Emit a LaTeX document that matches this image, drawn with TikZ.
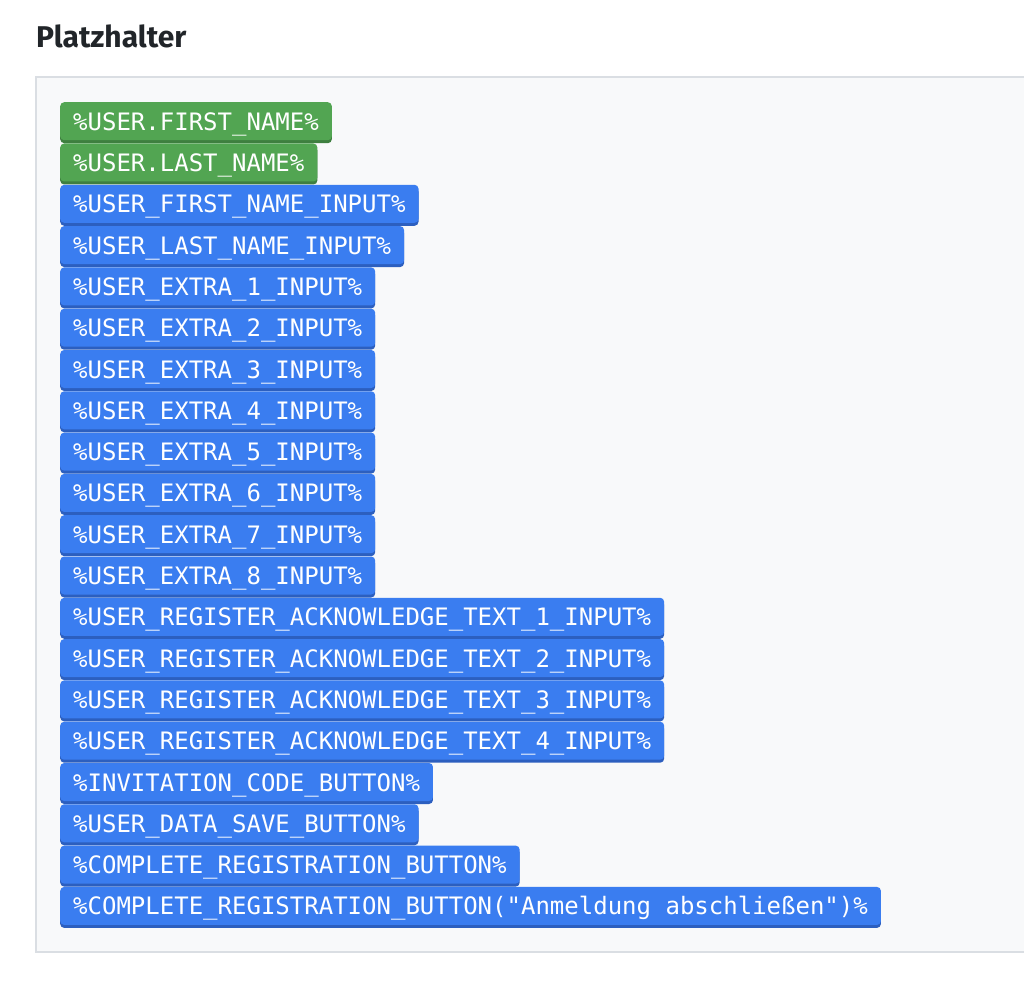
\documentclass[tikz,border=0pt]{standalone}
\usepackage{fontspec}
\setsansfont{Fira Sans}
\newfontfamily\tagfont{DejaVu Sans Mono}
\usetikzlibrary{positioning, shadows}

\definecolor{titlegray}{HTML}{212529}
\definecolor{panelfill}{HTML}{F8F9FA}
\definecolor{panelline}{HTML}{DADEE3}
\definecolor{taggreen}{HTML}{52A552}
\definecolor{taggreendark}{HTML}{3E7F3F}
\definecolor{tagblue}{HTML}{3A7DF0}
\definecolor{tagbluedark}{HTML}{2C5FBF}

\begin{document}
\begin{tikzpicture}[x=1pt, y=1pt, node distance=2.9pt and 0pt,
    tag/.style={rounded corners=4pt, text=white, inner xsep=13pt, inner ysep=8pt,
        text height=20pt, text depth=2pt, font=\tagfont\fontsize{24}{28}\selectfont},
    greentag/.style={tag, fill=taggreen, anchor=north west,
        drop shadow={shadow xshift=0pt, shadow yshift=-3pt, fill=taggreendark, opacity=1}},
    bluetag/.style={tag, fill=tagblue, anchor=north west,
        drop shadow={shadow xshift=0pt, shadow yshift=-3pt, fill=tagbluedark, opacity=1}}]
    \clip (0,0) rectangle (1024,-981);

    % Heading and panel
    \node[anchor=base west, inner sep=0pt, text=titlegray,
        font=\sffamily\bfseries\fontsize{30}{36}\selectfont] (title) at (36,-48) {Platzhalter};
    \node[draw=panelline, line width=2pt, fill=panelfill, anchor=north west,
        minimum width=1010pt, minimum height=875pt] (panel) at (35,-76) {};

    % Nodes
    \node[greentag] (g1) at (60,-102) {\%USER.FIRST\_NAME\%};
    \node[greentag, below right=of g1.south west] (g2) {\%USER.LAST\_NAME\%};
    \node[bluetag, below right=of g2.south west] (b1) {\%USER\_FIRST\_NAME\_INPUT\%};
    \node[bluetag, below right=of b1.south west] (b2) {\%USER\_LAST\_NAME\_INPUT\%};
    \node[bluetag, below right=of b2.south west] (e1) {\%USER\_EXTRA\_1\_INPUT\%};
    \node[bluetag, below right=of e1.south west] (e2) {\%USER\_EXTRA\_2\_INPUT\%};
    \node[bluetag, below right=of e2.south west] (e3) {\%USER\_EXTRA\_3\_INPUT\%};
    \node[bluetag, below right=of e3.south west] (e4) {\%USER\_EXTRA\_4\_INPUT\%};
    \node[bluetag, below right=of e4.south west] (e5) {\%USER\_EXTRA\_5\_INPUT\%};
    \node[bluetag, below right=of e5.south west] (e6) {\%USER\_EXTRA\_6\_INPUT\%};
    \node[bluetag, below right=of e6.south west] (e7) {\%USER\_EXTRA\_7\_INPUT\%};
    \node[bluetag, below right=of e7.south west] (e8) {\%USER\_EXTRA\_8\_INPUT\%};
    \node[bluetag, below right=of e8.south west] (a1) {\%USER\_REGISTER\_ACKNOWLEDGE\_TEXT\_1\_INPUT\%};
    \node[bluetag, below right=of a1.south west] (a2) {\%USER\_REGISTER\_ACKNOWLEDGE\_TEXT\_2\_INPUT\%};
    \node[bluetag, below right=of a2.south west] (a3) {\%USER\_REGISTER\_ACKNOWLEDGE\_TEXT\_3\_INPUT\%};
    \node[bluetag, below right=of a3.south west] (a4) {\%USER\_REGISTER\_ACKNOWLEDGE\_TEXT\_4\_INPUT\%};
    \node[bluetag, below right=of a4.south west] (inv) {\%INVITATION\_CODE\_BUTTON\%};
    \node[bluetag, below right=of inv.south west] (save) {\%USER\_DATA\_SAVE\_BUTTON\%};
    \node[bluetag, below right=of save.south west] (done) {\%COMPLETE\_REGISTRATION\_BUTTON\%};
    \node[bluetag, below right=of done.south west] (donetxt) {\%COMPLETE\_REGISTRATION\_BUTTON("Anmeldung abschließen")\%};
\end{tikzpicture}
\end{document}
